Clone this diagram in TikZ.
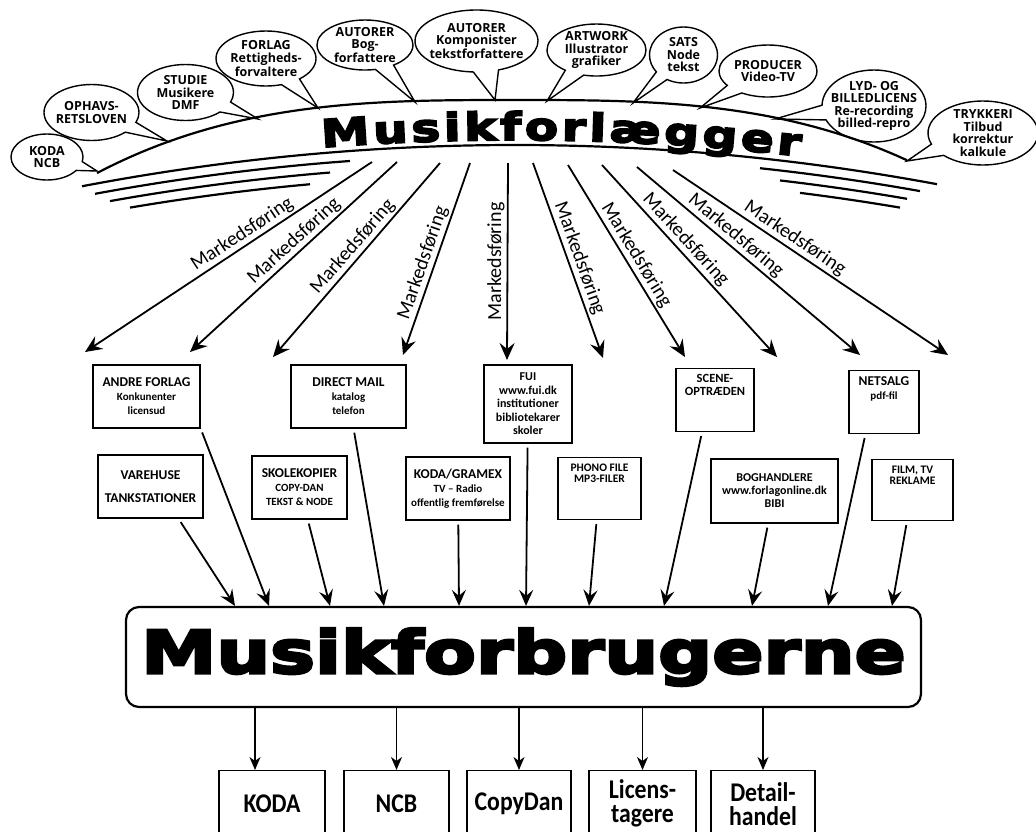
\documentclass[tikz,border=0pt]{standalone}
\usepackage{fontspec}
\setmainfont{Carlito}
\newfontfamily\bubblefont{Open Sans}
\newfontfamily\narrowfont{Carlito}[FakeStretch=0.88]
\newfontfamily\heavyfont{DejaVu Sans}[FakeStretch=1.28, BoldFeatures={FakeBold=5}]
\newcommand\subline[1]{{\fontsize{11}{12}\selectfont #1}}
\newcommand\arcfont{\heavyfont\bfseries\fontsize{38}{40}\selectfont}
\usetikzlibrary{positioning,arrows.meta,shapes,calc,decorations.text}

\begin{document}
\begin{tikzpicture}[
  x=1pt, y=-1pt,
  >=Stealth,
  font=\fontsize{14}{15}\selectfont,
  bubble/.style={ellipse callout, draw, line width=1.4pt, align=center, inner xsep=-12pt, inner ysep=-3pt, callout pointer arc=24, font=\bubblefont\bfseries\fontsize{12.5}{12.5}\selectfont},
  box/.style={draw, line width=1.4pt, align=center, inner xsep=3pt, inner ysep=6pt, font=\bfseries\fontsize{13.5}{14}\selectfont},
  upper/.style={text depth=#1},
  sink/.style={draw, line width=1.3pt, align=center, anchor=north, minimum height=66pt, font=\narrowfont\bfseries\fontsize{27}{24}\selectfont},
  consumer/.style={draw, line width=2.2pt, rounded corners=13pt, minimum width=795pt, minimum height=100pt, inner sep=0pt, font=\heavyfont\bfseries\fontsize{59}{60}\selectfont},
  arcline/.style={line width=2.2pt},
  market/.style={-{Stealth[length=17pt,width=15pt,inset=6pt]}, line width=1.8pt},
  mlabel/.style={font=\fontsize{20}{21}\selectfont, inner sep=2pt},
  feed/.style={-{Stealth[length=16pt,width=14pt,inset=6pt]}, line width=1.8pt, shorten <=4pt},
  pay/.style={-{Stealth[length=13pt,width=11pt,inset=4pt]}, line width=1.4pt}
]
\useasboundingbox (0,0) rectangle (1036,831);
\clip (0,0) rectangle (1036,831);

% Rainbow of arcs round the publisher
\draw[arcline] plot[domain=97:907, samples=80] (\x,{100+abs((\x-515)/100)^3});
\draw[arcline] plot[domain=82:937, samples=80] (\x,{145+2.2*((\x-515)/100)^2});
\foreach \j/\a/\b/\c/\d in {1/95/350/760/920, 2/110/330/780/907, 3/130/310/800/900}{
  \draw[arcline] plot[domain=\a:\b, samples=30] (\x,{145+10*\j+2.2*((\x-515)/100)^2});
  \draw[arcline] plot[domain=\c:\d, samples=30] (\x,{145+10*\j+2.2*((\x-515)/100)^2});
}

% Publisher name along the band
\path[decorate, decoration={text along path, text={|\arcfont|Musikforlægger}, text align={fit to path}}]
  plot[domain=322:800, samples=50] (\x,{140+2*((\x-515)/100)^2});

% Bubbles (partners of the publisher)
\node[bubble, minimum width=72pt, minimum height=46pt, callout absolute pointer={(97,171)}] (kodancb) at (47,157) {KODA\\NCB};
\node[bubble, minimum width=95pt, minimum height=56pt, callout absolute pointer={(167,141)}] (ophavs) at (91.5,112.5) {OPHAVS-\\RETSLOVEN};
\node[bubble, minimum width=96pt, minimum height=56pt, callout absolute pointer={(258,119)}] (studie) at (185.5,92.5) {STUDIE\\Musikere\\DMF};
\node[bubble, minimum width=100pt, minimum height=55pt, callout absolute pointer={(318,108)}] (forlag) at (266,58.5) {FORLAG\\Rettigheds-\\forvaltere};
\node[bubble, minimum width=96pt, minimum height=50pt, callout absolute pointer={(415,102)}] (bogaut) at (365,45) {AUTORER\\Bog-\\forfattere};
\node[bubble, minimum width=123pt, minimum height=62pt, callout absolute pointer={(495,100)}] (komp) at (476.5,41) {AUTORER\\Komponister\\tekstforfattere};
\node[bubble, minimum width=99pt, minimum height=52pt, callout absolute pointer={(547,101)}] (artwork) at (596.5,50) {ARTWORK\\Illustrator\\grafiker};
\node[bubble, minimum width=68pt, minimum height=56pt, callout absolute pointer={(633,103)}] (sats) at (683.5,55) {SATS\\Node\\tekst};
\node[bubble, minimum width=98pt, minimum height=52pt, callout absolute pointer={(700,108)}] (producer) at (768,71) {PRODUCER\\Video-TV};
\node[bubble, minimum width=104pt, minimum height=72pt, callout absolute pointer={(775,119)}] (lydlic) at (874,106) {LYD- OG\\BILLEDLICENS\\Re-recording\\billed-repro};
\node[bubble, minimum width=110pt, minimum height=64pt, callout absolute pointer={(907,161)}] (trykkeri) at (983,133) {TRYKKERI\\Tilbud\\korrektur\\kalkule};

% Marketing arrows from the band
\foreach \i/\sx/\sy/\ex/\ey/\p in {1/372/162/85/352/0.43, 2/397/162/190/352/0.46, 3/440/163/273/357/0.47, 4/470/163/403/355/0.54, 6/533/163/603/358/0.51, 7/568/165/685/357/0.5, 8/602/165/777/357/0.43, 9/637/167/860/355/0.41, 10/673/170/948/355/0.42}{
  \coordinate (ms\i) at (\sx,\sy);
  \coordinate (me\i) at (\ex,\ey);
  \draw[market] (ms\i) -- node[mlabel, sloped, above, pos=\p] {Markedsføring} (me\i);
}
\coordinate (ms5) at (508,163);
\coordinate (me5) at (507,360);
\draw[market] (ms5) -- node[mlabel, rotate=90, anchor=south, pos=0.5] {Markedsføring} (me5);

% Channels, upper row
\node[box, minimum width=107pt, minimum height=63pt] (andre) at (146.5,396.5) {ANDRE FORLAG\\\subline{Konkunenter}\\\subline{licensud}};
\node[box, minimum width=115pt, minimum height=63pt] (direct) at (348.5,396.5) {DIRECT MAIL\\\subline{katalog}\\\subline{telefon}};
\node[box, minimum width=88pt, minimum height=78pt, font=\bfseries\fontsize{12}{13.5}\selectfont] (fui) at (528,404) {FUI\\www.fui.dk\\institutioner\\bibliotekarer\\skoler};
\node[box, minimum width=78pt, upper=29.6pt, font=\bfseries\fontsize{12.5}{13}\selectfont] (scene) at (715,400) {SCENE-\\OPTRÆDEN};
\node[box, minimum width=70pt, upper=28pt] (netsalg) at (884,402) {NETSALG\\\subline{pdf-fil}};

% Channels, lower row
\node[box, minimum width=105pt, minimum height=63pt] (vare) at (150.5,486.5) {VAREHUSE\\[9pt]TANKSTATIONER};
\node[box, minimum width=95pt, minimum height=63pt] (skole) at (299.5,487.5) {SKOLEKOPIER\\\subline{COPY-DAN}\\\subline{TEKST \& NODE}};
\node[box, minimum width=104pt, minimum height=63pt] (gramex) at (458,488.5) {KODA/GRAMEX\\\subline{TV – Radio}\\\subline{offentlig fremførelse}};
\node[box, minimum width=83pt, upper=31.4pt, font=\bfseries\fontsize{11.5}{11}\selectfont] (phono) at (599.5,488.5) {PHONO FILE\\MP3-FILER};
\node[box, minimum width=127pt, minimum height=64pt, font=\bfseries\fontsize{12}{13}\selectfont] (boghandel) at (774.5,491) {BOGHANDLERE\\www.forlagonline.dk\\BIBI};
\node[box, minimum width=81pt, upper=30.4pt, font=\bfseries\fontsize{11.5}{11}\selectfont] (film) at (912.5,490) {FILM, TV\\REKLAME};

% Music consumers
\node[consumer] (forbrug) at (523.5,657) {Musikforbrugerne};

% Channels -> consumers
\foreach \src/\x in {vare.311/235, andre.south east/269, skole/330, direct.279/384, gramex/459, fui/526, phono/589, scene.248/664, boghandel/752, netsalg.240/828, film/892}
  \draw[feed] (\src) -- (forbrug.north -| \x,0);

% Collecting bodies
\node[sink, minimum width=106pt] (koda) at (272,770) {KODA};
\node[sink, minimum width=105pt] (ncb) at (396.5,770) {NCB};
\node[sink, minimum width=104pt] (copydan) at (519,770) {CopyDan};
\node[sink, minimum width=107pt] (licens) at (642.5,770) {Licens-\\tagere};
\node[sink, minimum width=104pt] (detail) at (763,770) {Detail-\\handel};

% Consumers -> collecting bodies
\draw[pay] (forbrug.south -| 255,0) -- (koda.north -| 255,0);
\foreach \b in {ncb, copydan, licens, detail}
  \draw[pay] (forbrug.south -| \b.north) -- (\b.north);

\end{tikzpicture}
\end{document}
